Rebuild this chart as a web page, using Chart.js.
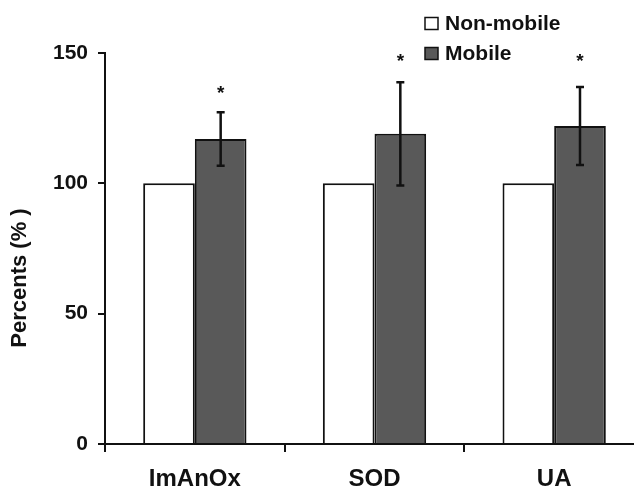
<!DOCTYPE html>
<html>
<head>
<meta charset="utf-8">
<script src="https://cdn.jsdelivr.net/npm/chart.js@4/dist/chart.umd.min.js"></script>
<style>
  html, body { margin: 0; padding: 0; background: #fff; overflow: hidden; }
  /* the original figure is cut off on the right, so the canvas runs a bit past the window */
  #wrap { width: 634px; height: 489px; position: relative; overflow: hidden; }
</style>
</head>
<body>
<div id="wrap"><canvas id="chart" width="644" height="489"></canvas></div>
<script>
// data
const categories = ['ImAnOx', 'SOD', 'UA'];
const nonMobile = [100, 100, 100];
const mobile = [117, 119, 122];
const mobileErr = [10.3, 19.8, 15];
const starLevel = [136, 148, 148];   // where the * marks sit (in %)
const yTicks = [0, 50, 100, 150];
const yTitle = 'Percents (% )';

const FONT = '"Liberation Sans", Arial, sans-serif';

// error bars + significance stars on the Mobile series
const errorBars = {
    id: 'errorBars',
    afterDatasetsDraw(chart) {
        const ctx = chart.ctx;
        const y = chart.scales.y;
        const meta = chart.getDatasetMeta(1);
        ctx.save();
        ctx.strokeStyle = '#111';
        ctx.lineWidth = 2.5;
        meta.data.forEach((bar, i) => {
            const x = bar.x;
            const top = y.getPixelForValue(mobile[i] + mobileErr[i]);
            const bot = y.getPixelForValue(mobile[i] - mobileErr[i]);
            ctx.beginPath();
            ctx.moveTo(x, top); ctx.lineTo(x, bot);
            ctx.moveTo(x - 4, top); ctx.lineTo(x + 4, top);
            ctx.moveTo(x - 4, bot); ctx.lineTo(x + 4, bot);
            ctx.stroke();
            ctx.fillStyle = '#111';
            ctx.font = 'bold 19px ' + FONT;
            ctx.textAlign = 'center';
            ctx.textBaseline = 'middle';
            ctx.fillText('*', x, y.getPixelForValue(starLevel[i]) + 4);
        });
        ctx.restore();
    }
};

// stacked legend in the top right corner and the y title (sits a bit low in the original)
const extras = {
    id: 'extras',
    afterDraw(chart) {
        const ctx = chart.ctx;
        const items = chart.data.datasets;
        ctx.save();
        ctx.font = 'bold 21px ' + FONT;
        ctx.textBaseline = 'middle';
        ctx.textAlign = 'left';
        items.forEach((ds, i) => {
            const cy = 23.5 + i * 30;
            ctx.fillStyle = ds.backgroundColor;
            ctx.strokeStyle = '#111';
            ctx.lineWidth = 1.5;
            ctx.fillRect(425, cy - 6, 13, 12);
            ctx.strokeRect(425, cy - 6, 13, 12);
            ctx.fillStyle = '#111';
            ctx.fillText(ds.label, 445, cy + 1);
        });

        ctx.translate(20, 278);
        ctx.rotate(-Math.PI / 2);
        ctx.textAlign = 'center';
        ctx.font = 'bold 22px ' + FONT;
        ctx.fillText(yTitle, 0, 0);
        ctx.restore();
    }
};

new Chart(document.getElementById('chart'), {
    type: 'bar',
    data: {
        labels: categories,
        datasets: [
            {
                label: 'Non-mobile',
                data: nonMobile,
                backgroundColor: '#ffffff',
                borderColor: '#111',
                borderWidth: 2
            },
            {
                label: 'Mobile',
                data: mobile,
                backgroundColor: '#595959',
                borderColor: '#111',
                borderWidth: 2
            }
        ]
    },
    options: {
        responsive: false,
        animation: false,
        layout: { padding: { top: 53, right: 0, left: 0, bottom: 0 } },
        categoryPercentage: 0.575,
        barPercentage: 1.0,
        plugins: {
            legend: { display: false },
            tooltip: { enabled: false }
        },
        scales: {
            x: {
                grid: {
                    display: true,
                    drawOnChartArea: false,
                    drawTicks: true,
                    tickLength: 8,
                    color: '#111',
                    lineWidth: 2,
                    offset: true
                },
                border: { color: '#111', width: 2 },
                ticks: {
                    color: '#111',
                    padding: 13,
                    font: { family: FONT, size: 24, weight: 'bold' }
                },
                afterFit(scale) { scale.height = 45; }
            },
            y: {
                min: 0,
                max: 150,
                afterBuildTicks(scale) {
                    scale.ticks = yTicks.map(v => ({ value: v }));
                },
                grid: {
                    drawOnChartArea: false,
                    drawTicks: true,
                    tickLength: 7,
                    color: '#111',
                    lineWidth: 2
                },
                border: { color: '#111', width: 2 },
                ticks: {
                    color: '#111',
                    padding: 10,
                    font: { family: FONT, size: 21, weight: 'bold' }
                },
                afterFit(scale) { scale.width = 105; }
            }
        }
    },
    plugins: [errorBars, extras]
});
</script>
</body>
</html>
